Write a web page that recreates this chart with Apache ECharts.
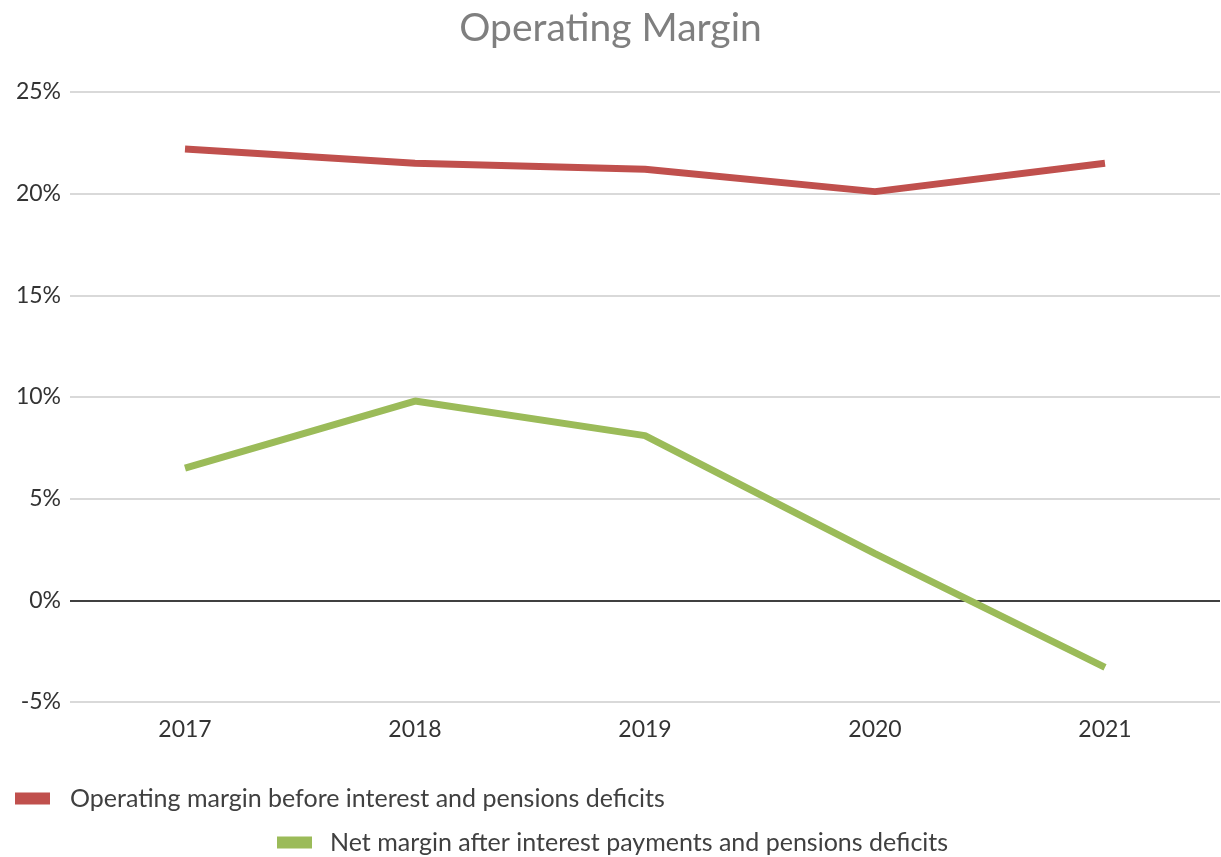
<!DOCTYPE html>
<html>
<head>
<meta charset="utf-8">
<script src="https://cdn.jsdelivr.net/npm/echarts@6/dist/echarts.min.js"></script>
<style>
  html, body { margin: 0; padding: 0; background: #fff; }
  #chart { width: 1221px; height: 857px; }
</style>
</head>
<body>
<div id="chart"></div>
<script>
  // values (percent)
  var years = ['2017', '2018', '2019', '2020', '2021'];
  var operatingMargin = [22.2, 21.5, 21.2, 20.1, 21.5];
  var netMargin = [6.5, 9.8, 8.1, 2.3, -3.3];
  var seriesNames = [
    'Operating margin before interest and pensions deficits',
    'Net margin after interest payments and pensions deficits'
  ];

  var chart = echarts.init(document.getElementById('chart'));
  var font = 'Lato, "Open Sans", sans-serif';

  var option = {
    backgroundColor: '#fff',
    animation: false,
    title: {
      text: 'Operating Margin',
      left: 'center',
      top: 4,
      textStyle: { fontFamily: font, fontSize: 39, fontWeight: 'normal', color: '#7f7f7f' }
    },
    legend: [
      {
        data: [seriesNames[0]],
        left: 10, top: 781,
        itemWidth: 35, itemHeight: 12,
        icon: 'rect',
        textStyle: { fontFamily: font, fontSize: 25, color: '#404040', padding: [0, 0, 0, 15] }
      },
      {
        data: [seriesNames[1]],
        left: 272, top: 825,
        itemWidth: 35, itemHeight: 12,
        icon: 'rect',
        textStyle: { fontFamily: font, fontSize: 25, color: '#404040', padding: [0, 0, 0, 13] }
      }
    ],
    grid: { left: 70, right: 1, top: 92, bottom: 155, containLabel: false },
    xAxis: {
      type: 'category',
      data: years,
      boundaryGap: true,
      axisLine: { show: false },
      axisTick: { show: false },
      axisLabel: { margin: 16, fontFamily: font, fontSize: 23, color: '#333' }
    },
    yAxis: {
      type: 'value',
      min: -5, max: 25, interval: 5,
      axisLine: { show: false },
      axisTick: { show: false },
      axisLabel: {
        margin: 9, fontFamily: font, fontSize: 23, color: '#333',
        formatter: function (v) { return v + '%'; }
      },
      splitLine: {
        lineStyle: {
          width: 2,
          color: ['#d9d9d9', '#404040', '#d9d9d9', '#d9d9d9', '#d9d9d9', '#d9d9d9', '#d9d9d9']
        }
      }
    },
    series: [
      {
        name: seriesNames[0],
        type: 'line',
        data: operatingMargin,
        color: '#c0504d',
        symbol: 'none',
        lineStyle: { width: 7, color: '#c0504d' }
      },
      {
        name: seriesNames[1],
        type: 'line',
        data: netMargin,
        color: '#9bbb59',
        symbol: 'none',
        lineStyle: { width: 7, color: '#9bbb59' }
      }
    ]
  };

  chart.setOption(option);
</script>
</body>
</html>
